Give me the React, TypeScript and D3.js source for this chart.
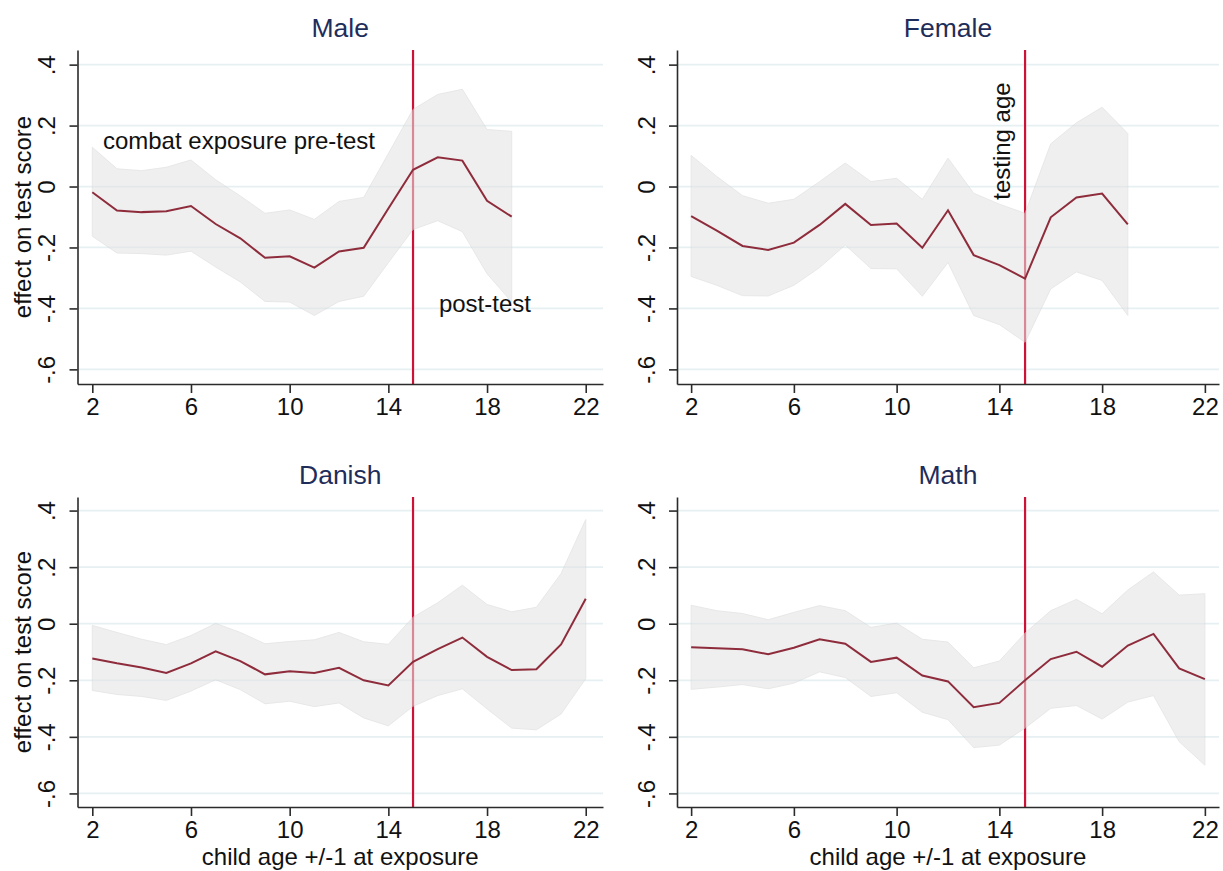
import { useEffect, useRef } from 'react';
import * as d3 from 'd3';

// child age +/-1 at exposure
const agesShort = [2, 3, 4, 5, 6, 7, 8, 9, 10, 11, 12, 13, 14, 15, 16, 17, 18, 19];
const agesLong = [2, 3, 4, 5, 6, 7, 8, 9, 10, 11, 12, 13, 14, 15, 16, 17, 18, 19, 20, 21, 22];

const xTicks = [2, 6, 10, 14, 18, 22];
const yTicks = [0.4, 0.2, 0, -0.2, -0.4, -0.6];
const yTickLabels = ['.4', '.2', '0', '-.2', '-.4', '-.6'];
const testingAge = 15;

// Male
const maleEst = [-0.019, -0.079, -0.084, -0.081, -0.064, -0.123, -0.17, -0.234, -0.229, -0.266, -0.213, -0.201, -0.072, 0.055, 0.096, 0.085, -0.047, -0.099];
const maleHi = [0.129, 0.058, 0.052, 0.063, 0.087, 0.022, -0.031, -0.088, -0.077, -0.108, -0.049, -0.036, 0.108, 0.253, 0.302, 0.319, 0.187, 0.181];
const maleLo = [-0.163, -0.218, -0.22, -0.225, -0.212, -0.264, -0.313, -0.377, -0.379, -0.423, -0.377, -0.36, -0.25, -0.141, -0.112, -0.148, -0.286, -0.379];

// Female
const femaleEst = [-0.097, -0.145, -0.195, -0.208, -0.184, -0.126, -0.057, -0.126, -0.121, -0.201, -0.078, -0.225, -0.258, -0.302, -0.101, -0.036, -0.023, -0.124];
const femaleHi = [0.102, 0.033, -0.03, -0.055, -0.042, 0.016, 0.077, 0.016, 0.027, -0.042, 0.093, -0.022, -0.058, -0.088, 0.14, 0.209, 0.26, 0.174];
const femaleLo = [-0.295, -0.324, -0.358, -0.359, -0.324, -0.266, -0.192, -0.269, -0.27, -0.36, -0.249, -0.423, -0.453, -0.511, -0.336, -0.28, -0.308, -0.423];

// Danish
const danishEst = [-0.123, -0.14, -0.155, -0.174, -0.14, -0.098, -0.132, -0.179, -0.168, -0.174, -0.156, -0.2, -0.218, -0.135, -0.09, -0.049, -0.117, -0.164, -0.161, -0.073, 0.088];
const danishHi = [-0.006, -0.031, -0.055, -0.074, -0.042, 0.001, -0.031, -0.071, -0.063, -0.057, -0.031, -0.064, -0.073, 0.023, 0.074, 0.136, 0.068, 0.042, 0.058, 0.177, 0.368];
const danishLo = [-0.236, -0.25, -0.257, -0.271, -0.238, -0.198, -0.233, -0.283, -0.274, -0.293, -0.28, -0.333, -0.361, -0.292, -0.254, -0.23, -0.301, -0.369, -0.375, -0.319, -0.194];

// Math
const mathEst = [-0.083, -0.087, -0.09, -0.108, -0.085, -0.055, -0.071, -0.135, -0.12, -0.183, -0.204, -0.295, -0.28, -0.2, -0.125, -0.099, -0.152, -0.077, -0.036, -0.158, -0.196];
const mathHi = [0.065, 0.046, 0.036, 0.014, 0.04, 0.064, 0.046, -0.013, 0.002, -0.055, -0.065, -0.156, -0.132, -0.033, 0.046, 0.086, 0.035, 0.119, 0.183, 0.101, 0.106];
const mathLo = [-0.232, -0.224, -0.215, -0.23, -0.21, -0.17, -0.19, -0.257, -0.244, -0.313, -0.339, -0.438, -0.429, -0.369, -0.299, -0.289, -0.337, -0.277, -0.254, -0.417, -0.5];

const FONT = '"Liberation Sans", Arial, sans-serif';
const LINE = '#8e2c3c';
const VLINE = '#cc1236';
const TITLE = '#1f2d5a';
const AXIS = '#2b2b2b';

export default function App() {
	const svgRef = useRef(null);

	useEffect(() => {
		const svg = d3.select(svgRef.current);
		svg.selectAll('*').remove();

		const panels = [
			{ title: 'Male', ages: agesShort, est: maleEst, hi: maleHi, lo: maleLo, left: 77.5, right: 603, top: 50, bottom: 384, xd: [1.4, 22.7], yLabel: true, xLabel: false },
			{ title: 'Female', ages: agesShort, est: femaleEst, hi: femaleHi, lo: femaleLo, left: 677, right: 1219, top: 50, bottom: 384, xd: [1.45, 22.55], yLabel: false, xLabel: false },
			{ title: 'Danish', ages: agesLong, est: danishEst, hi: danishHi, lo: danishLo, left: 77.5, right: 603, top: 497, bottom: 807, xd: [1.4, 22.7], yLabel: true, xLabel: true },
			{ title: 'Math', ages: agesLong, est: mathEst, hi: mathHi, lo: mathLo, left: 677, right: 1219, top: 497, bottom: 807, xd: [1.45, 22.55], yLabel: false, xLabel: true }
		];

		panels.forEach((p, pi) => {
			const x = d3.scaleLinear().domain(p.xd).range([p.left, p.right]);
			const y = d3.scaleLinear().domain([-0.648, 0.448]).range([p.bottom, p.top]);
			const g = svg.append('g');

			// gridlines
			g.selectAll('.grid')
				.data(yTicks)
				.join('line')
				.attr('x1', p.left)
				.attr('x2', p.right)
				.attr('y1', (d) => y(d))
				.attr('y2', (d) => y(d))
				.attr('stroke', '#e6eff2')
				.attr('stroke-width', 1.8);

			// testing age line
			g.append('line')
				.attr('x1', x(testingAge))
				.attr('x2', x(testingAge))
				.attr('y1', p.top)
				.attr('y2', p.bottom)
				.attr('stroke', VLINE)
				.attr('stroke-width', 2.2);

			const rows = p.ages.map((a, i) => ({ a, est: p.est[i], hi: p.hi[i], lo: p.lo[i] }));

			// confidence band
			const area = d3.area().x((d) => x(d.a)).y0((d) => y(d.lo)).y1((d) => y(d.hi));
			g.append('path')
				.datum(rows)
				.attr('d', area)
				.attr('fill', '#e4e4e4')
				.attr('stroke', '#d6d6d6')
				.attr('stroke-width', 1)
				.attr('opacity', 0.56);

			// point estimates
			const line = d3.line().x((d) => x(d.a)).y((d) => y(d.est));
			g.append('path')
				.datum(rows)
				.attr('d', line)
				.attr('fill', 'none')
				.attr('stroke', LINE)
				.attr('stroke-width', 2);

			// y axis
			const ya = g.append('g')
				.attr('transform', `translate(${p.left},0)`)
				.call(d3.axisLeft(y).tickValues(yTicks).tickFormat((d, i) => yTickLabels[i]).tickSize(8).tickSizeOuter(0));
			ya.select('.domain').attr('stroke', AXIS).attr('stroke-width', 1.6);
			ya.selectAll('line').attr('stroke', AXIS).attr('stroke-width', 1.6);
			ya.selectAll('text')
				.attr('x', 0)
				.attr('dy', 0)
				.attr('text-anchor', 'middle')
				.attr('transform', 'translate(-22.5,0) rotate(-90)')
				.attr('font-family', FONT)
				.attr('font-size', 24)
				.attr('fill', '#111');

			// x axis
			const xa = g.append('g')
				.attr('transform', `translate(0,${p.bottom})`)
				.call(d3.axisBottom(x).tickValues(xTicks).tickSize(9).tickSizeOuter(0));
			xa.select('.domain').attr('stroke', AXIS).attr('stroke-width', 1.6);
			xa.selectAll('line').attr('stroke', AXIS).attr('stroke-width', 1.6);
			xa.selectAll('text')
				.attr('y', 31)
				.attr('dy', 0)
				.attr('font-family', FONT)
				.attr('font-size', 24)
				.attr('fill', '#111');

			// title
			g.append('text')
				.attr('x', (p.left + p.right) / 2)
				.attr('y', p.top - 13.5)
				.attr('text-anchor', 'middle')
				.attr('font-family', FONT)
				.attr('font-size', 26.5)
				.attr('fill', TITLE)
				.text(p.title);

			if (p.yLabel) {
				g.append('text')
					.attr('transform', `translate(31,${(p.top + p.bottom) / 2}) rotate(-90)`)
					.attr('text-anchor', 'middle')
					.attr('font-family', FONT)
					.attr('font-size', 24)
					.attr('fill', '#111')
					.text('effect on test score');
			}
			if (p.xLabel) {
				g.append('text')
					.attr('x', (p.left + p.right) / 2)
					.attr('y', p.bottom + 58)
					.attr('text-anchor', 'middle')
					.attr('font-family', FONT)
					.attr('font-size', 24)
					.attr('fill', '#111')
					.text('child age +/-1 at exposure');
			}

			// annotations
			if (pi === 0) {
				g.append('text').attr('x', x(2.43)).attr('y', y(0.123)).attr('font-family', FONT).attr('font-size', 24).attr('fill', '#111').text('combat exposure pre-test');
				g.append('text').attr('x', x(16.05)).attr('y', y(-0.413)).attr('font-family', FONT).attr('font-size', 24).attr('fill', '#111').text('post-test');
			}
			if (pi === 1) {
				g.append('text')
					.attr('transform', `translate(${x(14.43)},${y(-0.0435)}) rotate(-90)`)
					.attr('font-family', FONT)
					.attr('font-size', 24)
					.attr('fill', '#111')
					.text('testing age');
			}
		});

		return () => {
			svg.selectAll('*').remove();
		};
	}, []);

	return (
		<div style={{ position: 'absolute', left: 0, top: 0, background: '#fff' }}>
			<svg ref={svgRef} width={1223} height={871} style={{ display: 'block' }} />
		</div>
	);
}
